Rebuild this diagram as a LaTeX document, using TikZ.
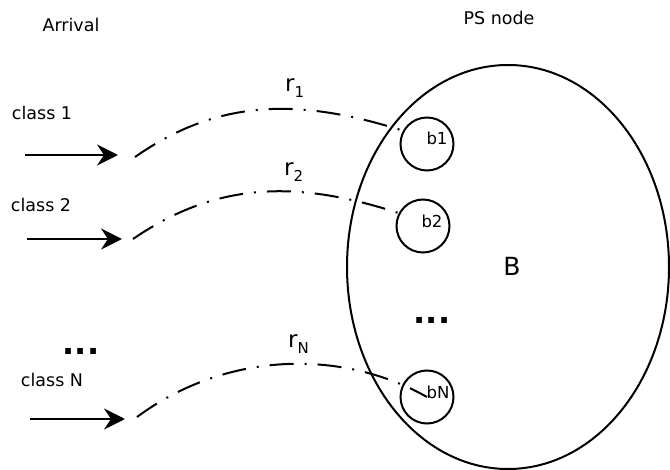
\documentclass[tikz,border=0pt]{standalone}
\usepackage{fontspec}
\setmainfont{DejaVu Sans}
\usetikzlibrary{arrows.meta,shapes.geometric}
\tikzset{
 txt/.style={font=\fontsize{17.5}{20}\selectfont},
 btxt/.style={font=\fontsize{16.5}{18}\selectfont},
 dots/.style={font=\bfseries\fontsize{32}{34}\selectfont},
 rtxt/.style={font=\fontsize{23}{25}\selectfont,anchor=base west,inner sep=0pt},
 buf/.style={draw,circle,line width=2pt,minimum size=53pt,inner sep=0pt},
 flow/.style={line width=2.6pt,-{Stealth[length=21pt,width=21pt,inset=7pt]}},
 rate/.style={line width=2pt,dash pattern=on 24pt off 11pt on 2pt off 11pt},
}
\newcommand{\rlab}[1]{r\raisebox{-6pt}{\fontsize{15}{15}\selectfont #1}}

\begin{document}
\begin{tikzpicture}[x=1pt,y=-1pt]
 \useasboundingbox (0,0) rectangle (670,470);
 % titles
 \node[txt] (arrival) at (71,25) {Arrival};
 \node[txt] (pslab) at (499,18) {PS node};
 % the PS node and its buffers
 \node[draw,ellipse,line width=2pt,minimum width=322pt,minimum height=404pt,inner sep=0pt] (ps) at (508,267) {};
 \node[font=\fontsize{25}{28}\selectfont] (Blab) at (512,266) {B};
 \node[buf] (b1) at (427,144) {};
 \node[buf] (b2) at (423,226) {};
 \node[buf] (bN) at (427,397) {};
 \node[btxt] (b1lab) at (437,138) {b1};
 \node[btxt] (b2lab) at (432,221) {b2};
 \node[btxt] (bNlab) at (438,392) {bN};
 \node[dots] (pdots) at (432,320) {...};
 % classes
 \node[txt] (c1) at (42,113) {class 1};
 \node[txt] (c2) at (41,205) {class 2};
 \node[dots] (cdots) at (81,351) {...};
 \node[txt] (cN) at (52,380) {class N};
 \coordinate (a1) at (25,155); \coordinate (e1) at (118,155); \coordinate (s1) at (135,157);
 \coordinate (a2) at (27,239); \coordinate (e2) at (122,239); \coordinate (s2) at (133,239);
 \coordinate (aN) at (30,419); \coordinate (eN) at (125,419); \coordinate (sN) at (137,417);
 \draw[flow] (a1) -- (e1);
 \draw[flow] (a2) -- (e2);
 \draw[flow] (aN) -- (eN);
 % rates
 \draw[rate] (s1) .. controls (221,97) and (302,99) .. (b1.151);
 \draw[rate] (s2) .. controls (219,180) and (300,181) .. (b2.152);
 \draw[rate] (sN) .. controls (225,352) and (340,348) .. (bN.center);
 \node[rtxt] (r1) at (285,92) {\rlab{1}};
 \node[rtxt] (r2) at (284,176) {\rlab{2}};
 \node[rtxt] (rN) at (288,348) {\rlab{N}};
\end{tikzpicture}
\end{document}
